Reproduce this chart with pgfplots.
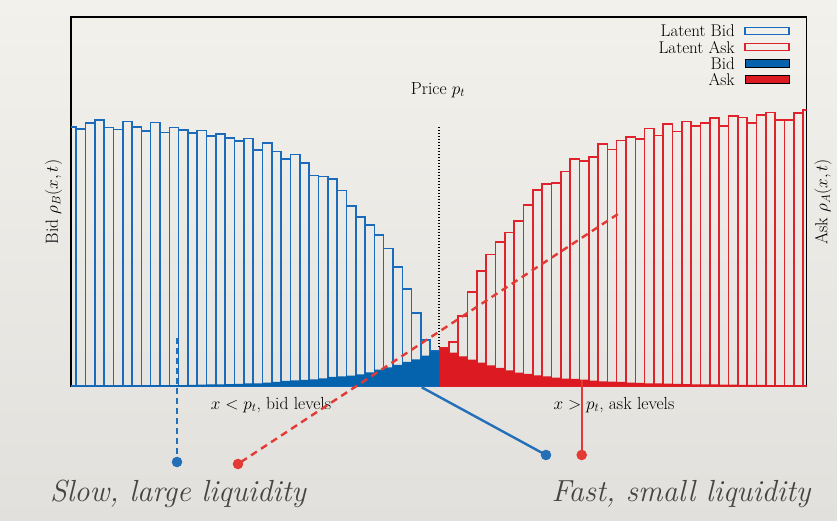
\documentclass[border=0pt]{standalone}
\usepackage{pgfplots}
\pgfplotsset{compat=1.18}
\definecolor{bidline}{HTML}{1A6BBC}
\definecolor{bidfill}{HTML}{0562AD}
\definecolor{askline}{HTML}{E0222C}
\definecolor{askfill}{HTML}{DC1A22}
\definecolor{dotblue}{HTML}{2370B8}
\definecolor{dotred}{HTML}{E23B36}
\definecolor{bgtop}{HTML}{F3F1EC}
\definecolor{bgbot}{HTML}{E2E0DC}
\definecolor{captext}{HTML}{454545}
\begin{document}
\begin{tikzpicture}[font=\fontsize{17.5}{21}\selectfont]
\shade[top color=bgtop, bottom color=bgbot] (0,0) rectangle (837pt,521pt);
\begin{axis}[
  at={(71pt,134.7pt)}, anchor=south west,
  scale only axis, width=735.7pt, height=369.3pt,
  xmin=-39.55, xmax=39.39, ymin=0, ymax=369.3,
  xtick=\empty, ytick=\empty,
  axis line style={line width=1.4pt, black},
  clip mode=individual,
  legend plot pos=right,
  legend cell align=right,
  legend image code/.code={\draw[#1] (0pt,-3.6pt) rectangle (44pt,3.6pt);},
  legend style={draw=none, fill=none, at={(0.9773,0.983)}, anchor=north east,
    row sep=1.1pt, column sep=8pt, inner sep=0pt,
    font=\fontsize{17}{20}\selectfont,
    nodes={inner sep=1.5pt, text height=12pt, text depth=0pt}},
]
% Latent Bid
\addplot[ybar, bar width=1, bar shift=0pt, draw=bidline, line width=1.6pt, fill=none] coordinates {
(-39.5,259.0) (-38.5,257.0) (-37.5,263.0) (-36.5,266.0) (-35.5,258.6) (-34.5,256.6) (-33.5,264.6) (-32.5,259.3)
(-31.5,255.3) (-30.5,263.6) (-29.5,253.6) (-28.5,258.6) (-27.5,256.0) (-26.5,253.0) (-25.5,255.6) (-24.5,250.0)
(-23.5,252.3) (-22.5,248.0) (-21.5,245.3) (-20.5,247.6) (-19.5,236.3) (-18.5,243.0) (-17.5,234.6) (-16.5,227.0)
(-15.5,231.6) (-14.5,223.0) (-13.5,210.6) (-12.5,209.6) (-11.5,207.3) (-10.5,195.6) (-9.5,180.3) (-8.5,169.0)
(-7.5,161.3) (-6.5,151.3) (-5.5,137.6) (-4.5,119.3) (-3.5,97.3) (-2.5,73.0) (-1.5,46.0) (-0.5,35.0)
};
\addlegendentry{Latent Bid}
% Latent Ask
\addplot[ybar, bar width=1, bar shift=0pt, draw=askline, line width=1.6pt, fill=none] coordinates {
(0.5,38.0) (1.5,44.0) (2.5,70.3) (3.5,94.3) (4.5,115.0) (5.5,131.6) (6.5,144.0) (7.5,153.6)
(8.5,165.0) (9.5,181.3) (10.5,196.3) (11.5,202.0) (12.5,203.3) (13.5,214.6) (14.5,227.0) (15.5,225.0)
(16.5,229.3) (17.5,242.3) (18.5,236.6) (19.5,245.6) (20.5,249.3) (21.5,247.3) (22.5,257.6) (23.5,250.6)
(24.5,262.0) (25.5,254.6) (26.5,264.6) (27.5,260.3) (28.5,263.0) (29.5,268.3) (30.5,260.3) (31.5,270.3)
(32.5,268.6) (33.5,263.0) (34.5,271.3) (35.5,273.6) (36.5,266.3) (37.5,266.0) (38.5,273.0) (39.5,276.3)
};
\addlegendentry{Latent Ask}
% Bid
\addplot[ybar, bar width=1.02, bar shift=0pt, draw=none, fill=bidfill] coordinates {
(-39.5,0.15) (-38.5,0.2) (-37.5,0.25) (-36.5,0.3) (-35.5,0.35) (-34.5,0.4) (-33.5,0.5) (-32.5,0.6)
(-31.5,0.7) (-30.5,0.8) (-29.5,0.9) (-28.5,1.0) (-27.5,1.2) (-26.5,1.4) (-25.5,1.6) (-24.5,1.8)
(-23.5,2.0) (-22.5,2.2) (-21.5,2.5) (-20.5,2.8) (-19.5,3.0) (-18.5,3.6) (-17.5,4.3) (-16.5,5.3)
(-15.5,6.0) (-14.5,6.3) (-13.5,7.0) (-12.5,8.0) (-11.5,9.3) (-10.5,10.0) (-9.5,10.6) (-8.5,12.0)
(-7.5,14.0) (-6.5,16.6) (-5.5,19.0) (-4.5,21.3) (-3.5,24.3) (-2.5,27.0) (-1.5,30.6) (-0.5,35.0)
};
\addlegendentry{Bid}
% Ask
\addplot[ybar, bar width=1.02, bar shift=0pt, draw=none, fill=askfill] coordinates {
(0.5,38.0) (1.5,33.6) (2.5,30.0) (3.5,26.6) (4.5,23.6) (5.5,21.0) (6.5,18.3) (7.5,16.0)
(8.5,13.6) (9.5,12.3) (10.5,11.0) (11.5,10.0) (12.5,8.6) (13.5,7.6) (14.5,7.3) (15.5,6.6)
(16.5,5.6) (17.5,5.0) (18.5,4.6) (19.5,4.3) (20.5,3.6) (21.5,3.3) (22.5,3.0) (23.5,2.8)
(24.5,2.6) (25.5,2.4) (26.5,2.2) (27.5,2.0) (28.5,1.9) (29.5,1.8) (30.5,1.7) (31.5,1.6)
(32.5,1.5) (33.5,1.4) (34.5,1.3) (35.5,1.2) (36.5,1.1) (37.5,1.0) (38.5,1.0) (39.5,0.9)
};
\addlegendentry{Ask}
\end{axis}
% price line and labels
\draw[black, line width=1.3pt, dash pattern=on 1.4pt off 1.6pt] (439pt,394pt) -- (439pt,174pt);
\node at (438pt,431pt) {Price $p_t$};
\node at (271pt,116pt) {$x < p_t$, bid levels};
\node at (614pt,116pt) {$x > p_t$, ask levels};
\node[rotate=90] at (53.5pt,319pt) {Bid $\rho_B(x,t)$};
\node[rotate=90] at (823pt,319pt) {Ask $\rho_A(x,t)$};
% callouts
\draw[dotblue, line width=2.6pt, dash pattern=on 6pt off 4pt] (177pt,183pt) -- (177pt,62pt);
\fill[dotblue] (177pt,59pt) circle (5.3pt);
\draw[dotred, line width=2.4pt, dash pattern=on 7pt off 5pt] (241pt,59pt) -- (621pt,309pt);
\fill[dotred] (238pt,57pt) circle (5.3pt);
\draw[dotblue, line width=2.4pt] (421.7pt,133.7pt) -- (546pt,66pt);
\fill[dotblue] (546pt,66pt) circle (5.3pt);
\draw[dotred, line width=2.4pt] (581.7pt,141pt) -- (581.7pt,66pt);
\fill[dotred] (581.7pt,66pt) circle (5.3pt);
\node[anchor=base, text=captext, font=\fontsize{30.5}{36}\selectfont\itshape] at (178pt,19.3pt) {Slow, large liquidity};
\node[anchor=base, text=captext, font=\fontsize{30.5}{36}\selectfont\itshape] at (681pt,19.3pt) {Fast, small liquidity};
\end{tikzpicture}
\end{document}
